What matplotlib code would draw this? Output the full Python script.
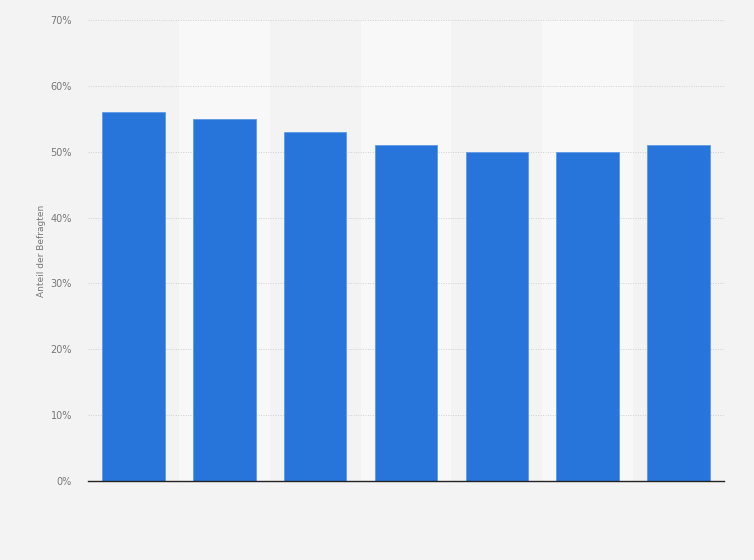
import matplotlib.pyplot as plt
from matplotlib.ticker import FuncFormatter

# survey shares per category (category labels not shown in the chart)
categories = ['1', '2', '3', '4', '5', '6', '7']
shares = [56, 55, 53, 51, 50, 50, 51]
y_ticks = [0, 10, 20, 30, 40, 50, 60, 70]

bg = '#f3f3f3'
band = '#f8f8f8'
bar_color = '#2775da'

fig = plt.figure(figsize=(7.54, 5.6), dpi=100, facecolor=bg)
ax = fig.add_axes([88 / 754, 79 / 560, 636 / 754, 461 / 560])
ax.set_facecolor(bg)

x = list(range(len(categories)))

# alternating lighter column bands
for i in x:
    if i % 2 == 1:
        ax.axvspan(i - 0.5, i + 0.5, facecolor=band, edgecolor='none', zorder=0)

ax.bar(x, shares, width=0.69, color=bar_color, edgecolor='#5f9ae6',
       linewidth=0.6, zorder=3)

ax.set_xlim(-0.5, len(categories) - 0.5)
ax.set_ylim(0, 70)
ax.set_yticks(y_ticks)
ax.yaxis.set_major_formatter(FuncFormatter(lambda v, _: f'{v:.0f}%'))
ax.set_xticks([])

ax.grid(axis='y', color='#cfcfcf', linestyle=(0, (1, 1.5)), linewidth=0.7, zorder=1)
ax.set_axisbelow(True)

for side in ['top', 'right', 'left']:
    ax.spines[side].set_visible(False)
ax.spines['bottom'].set_color('#222222')
ax.spines['bottom'].set_linewidth(1.0)
ax.spines['bottom'].set_zorder(4)

ax.tick_params(axis='y', length=0, pad=11.5, labelsize=7, labelcolor='#777777')

ax.set_ylabel('Anteil der Befragten', fontsize=6.5, color='#777777', labelpad=3)

fig.savefig('out.png', dpi=100, facecolor=bg)
